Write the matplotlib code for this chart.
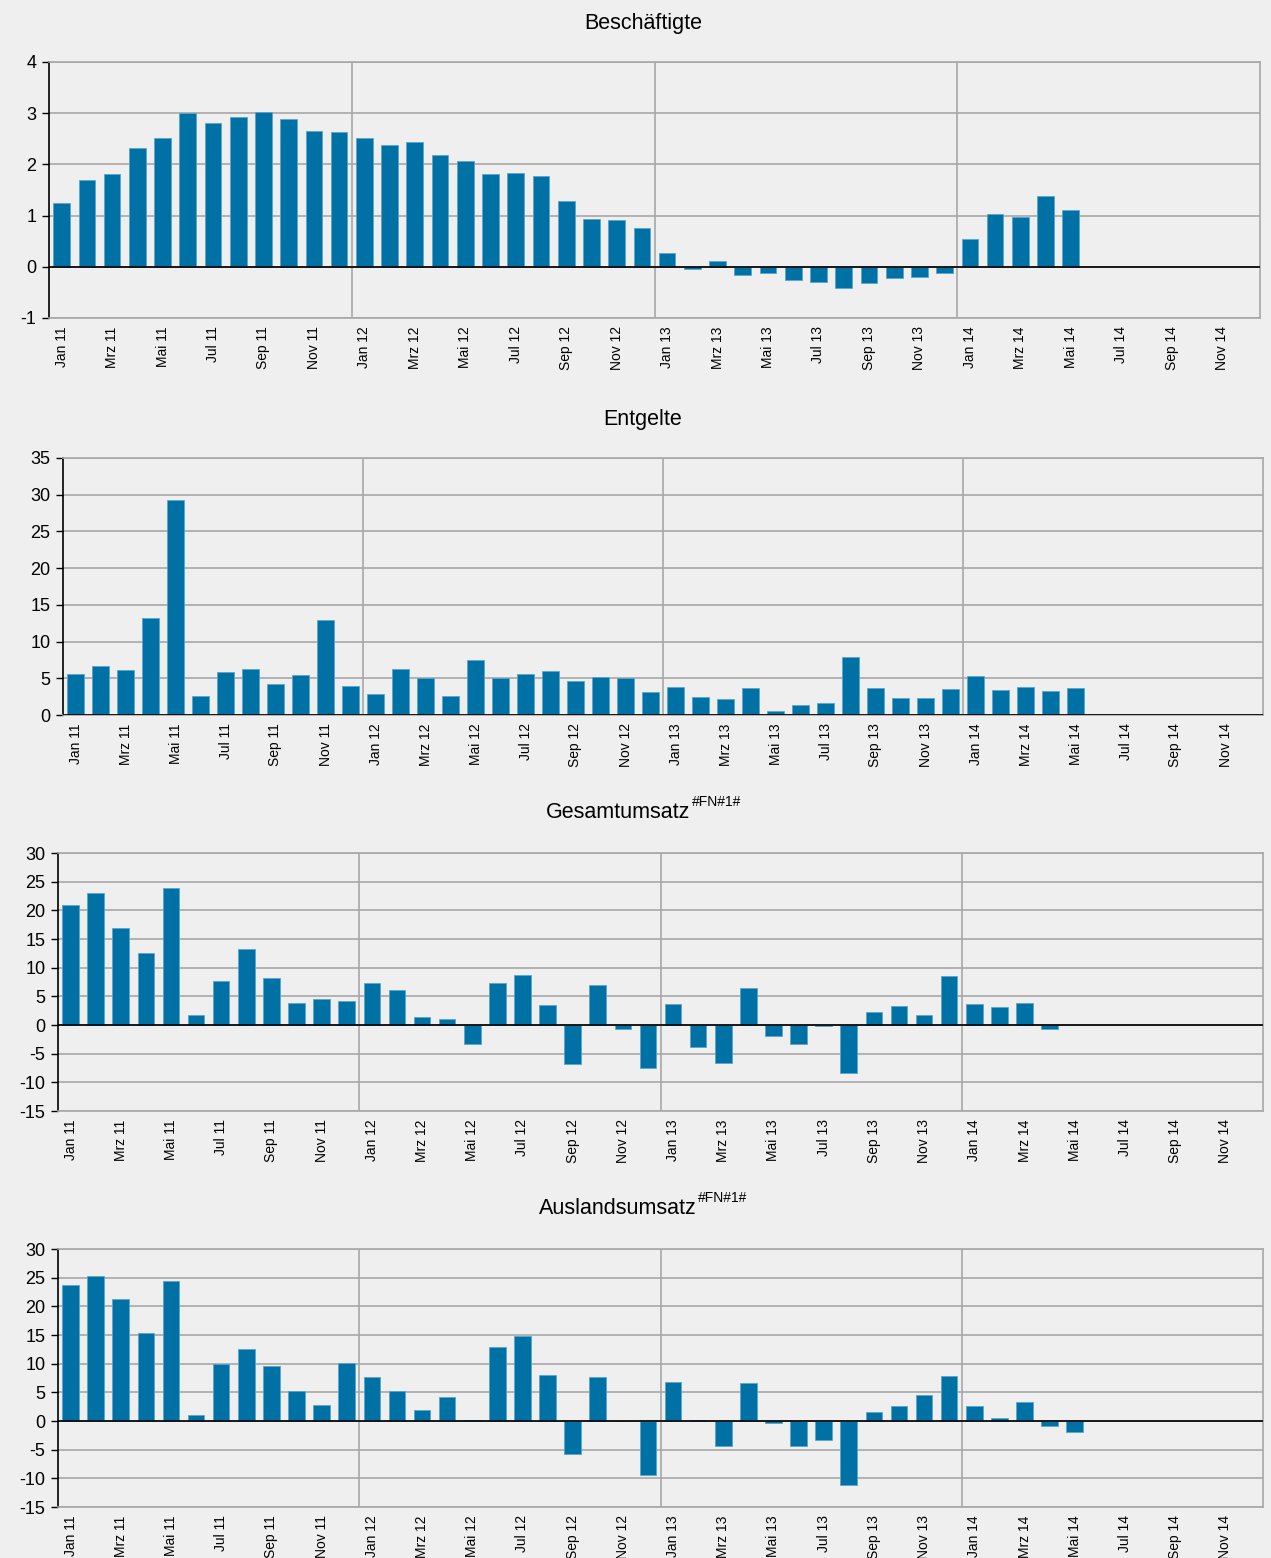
import numpy as np
import matplotlib
matplotlib.use("Agg")
import matplotlib.pyplot as plt

plt.rcParams['font.family'] = ['Liberation Sans', 'DejaVu Sans']
plt.rcParams['axes.unicode_minus'] = False

# months Jan 11 .. Dez 14, labels on every second month
month_names = ['Jan', 'Feb', 'Mrz', 'Apr', 'Mai', 'Jun',
               'Jul', 'Aug', 'Sep', 'Okt', 'Nov', 'Dez']
years = ['11', '12', '13', '14']
months = [m + ' ' + y for y in years for m in month_names]

# Veränderung gegenüber Vorjahresmonat in %
beschaeftigte = [1.25, 1.70, 1.82, 2.32, 2.51, 3.00, 2.81, 2.92, 3.03, 2.88, 2.66, 2.63,
                 2.51, 2.37, 2.44, 2.18, 2.06, 1.82, 1.84, 1.78, 1.28, 0.94, 0.91, 0.76,
                 0.27, -0.05, 0.12, -0.16, -0.12, -0.25, -0.29, -0.41, -0.31, -0.21, -0.20, -0.12,
                 0.54, 1.04, 0.97, 1.39, 1.10]
entgelte = [5.6, 6.65, 6.15, 13.25, 29.3, 2.6, 5.85, 6.3, 4.2, 5.4, 12.9, 3.95,
            2.9, 6.3, 5.0, 2.6, 7.45, 5.0, 5.55, 6.0, 4.65, 5.15, 5.0, 3.1,
            3.8, 2.45, 2.17, 3.66, 0.5, 1.36, 1.63, 7.96, 3.66, 2.35, 2.35, 3.53,
            5.25, 3.44, 3.8, 3.26, 3.62]
gesamtumsatz = [20.85, 23.1, 17.0, 12.6, 23.9, 1.75, 7.6, 13.2, 8.25, 3.9, 4.55, 4.2,
                7.4, 6.1, 1.45, 1.0, -3.3, 7.35, 8.8, 3.5, -6.87, 7.05, -0.64, -7.57,
                3.67, -3.79, -6.58, 6.52, -1.98, -3.26, -0.23, -8.44, 2.33, 3.32, 1.69, 8.56,
                3.61, 3.09, 3.79, -0.7]
auslandsumsatz = [23.8, 25.3, 21.2, 15.4, 24.5, 1.0, 9.9, 12.55, 9.63, 5.2, 2.8, 10.04,
                  7.7, 5.25, 2.0, 4.1, 0.1, 12.96, 14.77, 8.0, -5.78, 7.76, 0.0, -9.34,
                  6.78, 0.1, -4.32, 6.6, -0.3, -4.44, -3.27, -11.15, 1.64, 2.69, 4.5, 7.83,
                  2.69, 0.47, 3.33, -0.82, -1.99]

titles = ['Beschäftigte', 'Entgelte', 'Gesamtumsatz', 'Auslandsumsatz']
footnotes = ['', '', '#FN#1#', '#FN#1#']
series = [beschaeftigte, entgelte, gesamtumsatz, auslandsumsatz]
y_limits = [(-1, 4, 1), (0, 35, 5), (-15, 30, 5), (-15, 30, 5)]

W, H = 1271, 1558
# axes boxes in pixels: left, top, right, bottom, title y
boxes = [(49, 62, 1260, 318, 24), (63, 458, 1263, 715, 419),
         (58, 853, 1263, 1111, 813), (58, 1249, 1263, 1507, 1209)]

bar_color = '#0071a4'
grid_color = '#a8a8a8'
bg = '#eeefee'

fig = plt.figure(figsize=(W / 100, H / 100), dpi=100, facecolor=bg)
renderer = fig.canvas.get_renderer()

for vals, title, fn, (lo, hi, step), (l, t, r, b, ty) in zip(series, titles, footnotes,
                                                            y_limits, boxes):
    ax = fig.add_axes([l / W, 1 - b / H, (r - l) / W, (b - t) / H])
    ax.set_facecolor(bg)
    x = np.arange(len(vals))
    ax.bar(x, vals, width=0.66, color=bar_color, edgecolor='#5aa5cc', linewidth=0.6, zorder=3)
    ax.set_xlim(-0.5, len(months) - 0.5)
    ax.set_ylim(lo, hi)
    ax.set_yticks(np.arange(lo, hi + step / 2, step))
    ax.yaxis.grid(True, color=grid_color, linewidth=1.2, zorder=0)
    for xv in [11.5, 23.5, 35.5]:
        ax.axvline(xv, color=grid_color, linewidth=1.2, zorder=1)
    ax.axhline(0, color='black', linewidth=1.2, zorder=4)
    x_ticks = np.arange(0, len(months), 2)
    ax.set_xticks(x_ticks)
    ax.set_xticklabels([months[i] for i in x_ticks], rotation=90, fontsize=10)
    ax.tick_params(axis='x', length=0, pad=6)
    ax.tick_params(axis='y', labelsize=13, length=5, width=1, color='black', pad=4)
    ax.spines['left'].set_color('black')
    ax.spines['left'].set_linewidth(1.2)
    for side in ['right', 'top', 'bottom']:
        ax.spines[side].set_color(grid_color)
        ax.spines[side].set_linewidth(1.2)

    if fn:
        # main title and superscript footnote marker, centred together
        sup = fig.text(0, 0, fn, fontsize=10)
        main = fig.text(0, 0, title, fontsize=15.5)
        w_main = main.get_window_extent(renderer).width
        w_sup = sup.get_window_extent(renderer).width
        x0 = 643 - (w_main + w_sup) / 2
        main.set_position((x0 / W, 1 - ty / H))
        main.set_va('center')
        sup.set_position(((x0 + w_main + 1) / W, 1 - (ty - 11) / H))
        sup.set_va('center')
    else:
        fig.text(643 / W, 1 - ty / H, title, ha='center', va='center', fontsize=15.5)

fig.savefig('out.png', dpi=100, facecolor=bg)
